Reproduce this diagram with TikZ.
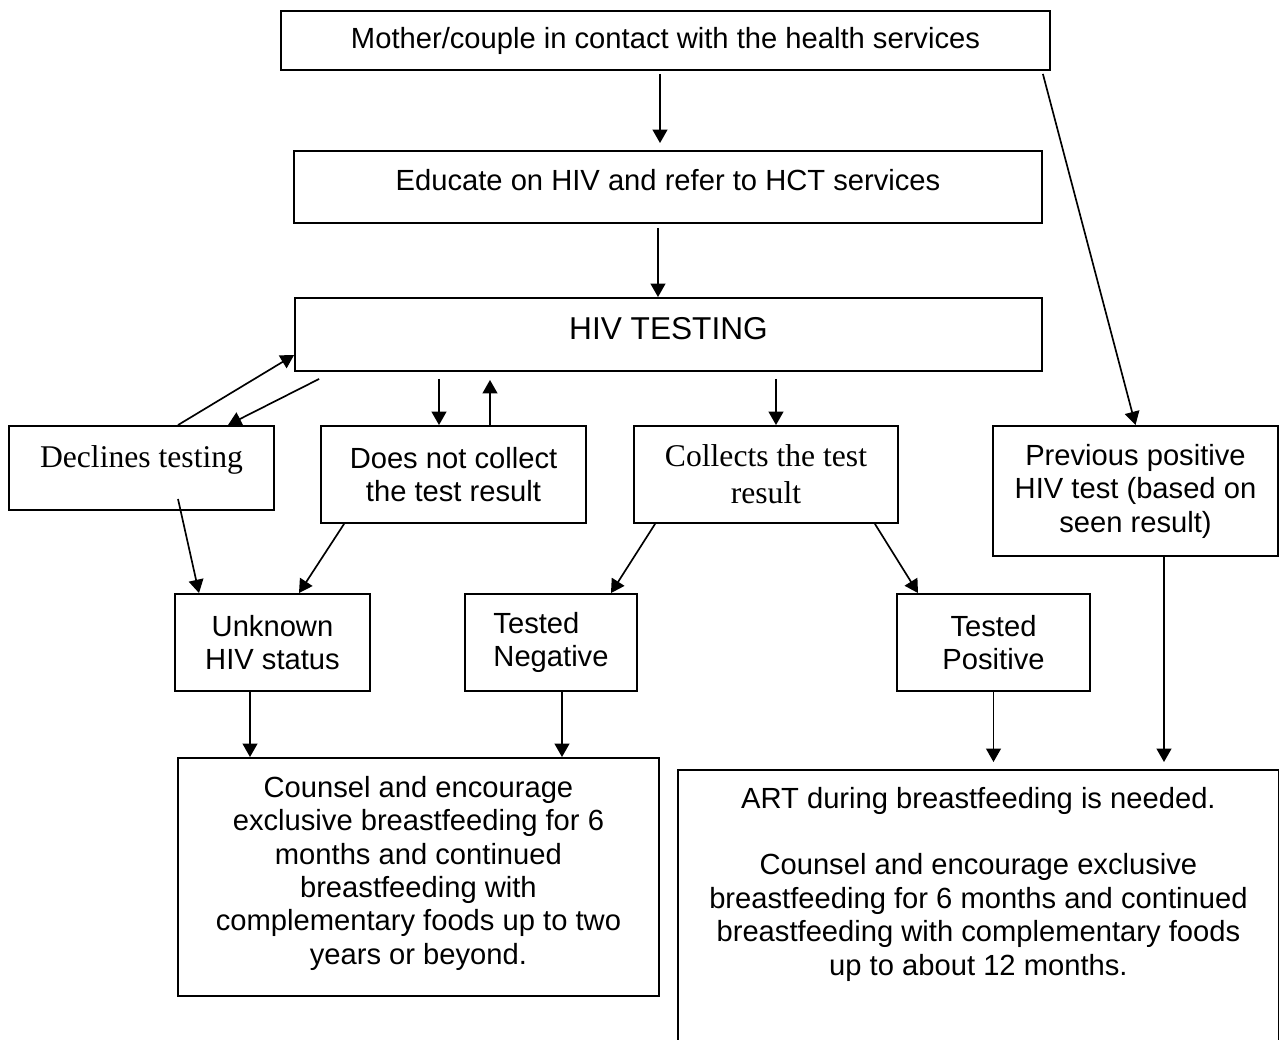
\documentclass[tikz,border=0pt]{standalone}
\usepackage{fontspec}
\setmainfont{Liberation Sans}
\newfontfamily\timesfont{Liberation Serif}
\usetikzlibrary{arrows.meta}
\begin{document}
\begin{tikzpicture}[x=0.02cm, y=-0.02cm, line join=miter,
    >={Triangle[length=7.6pt, width=8.4pt]},
    box/.style={draw, line width=1.1pt, inner sep=0pt, align=center,
      font=\fontsize{16.6}{19.05}\selectfont},
    serifbox/.style={box, font=\timesfont\fontsize{18}{21}\selectfont},
    link/.style={->, line width=0.95pt}]
  \useasboundingbox (0,0) rectangle (1279,1040);
  % --- Top of the chart ---
  \node[box, minimum width=15.38cm, minimum height=1.18cm] (contact) at (665.5,40.5)
    {Mother/couple in contact with the health services};
  \node[box, minimum width=14.96cm, minimum height=1.44cm] (educate) at (668,187)
    {\raisebox{0.28cm}{Educate on HIV and refer to HCT services}};
  \node[box, minimum width=14.94cm, minimum height=1.46cm, font=\fontsize{18}{21}\selectfont]
    (testing) at (668.5,334.5) {\raisebox{0.26cm}{HIV TESTING}};
  % --- Second row ---
  \node[serifbox, minimum width=5.30cm, minimum height=1.68cm] (declines) at (141.5,468)
    {\raisebox{0.45cm}{Declines testing}};
  \node[box, minimum width=5.30cm, minimum height=1.94cm] (nocollect) at (453.5,474.5)
    {Does not collect\\the test result};
  \node[serifbox, minimum width=5.28cm, minimum height=1.94cm] (collects) at (766,474.5)
    {Collects the test\\result};
  \node[box, minimum width=5.70cm, minimum height=2.60cm] (previous) at (1135.5,491)
    {Previous positive\\HIV test (based on\\seen result)};
  % --- Status row ---
  \node[box, minimum width=3.90cm, minimum height=1.94cm] (unknown) at (272.5,642.5)
    {Unknown\\HIV status};
  \node[box, align=left, minimum width=3.44cm, minimum height=1.94cm] (negative) at (551,642.5)
    {Tested\\Negative};
  \node[box, minimum width=3.86cm, minimum height=1.94cm] (positive) at (993.5,642.5)
    {Tested\\Positive};
  % --- Advice boxes ---
  \node[box, anchor=north west] (counsel) at (177,757)
    {\parbox[t][4.76cm][t]{9.62cm}{\centering\vspace*{0.36cm}%
      Counsel and encourage\\exclusive breastfeeding for 6\\months and continued\\
      breastfeeding with\\complementary foods up to two\\years or beyond.}};
  \node[box, anchor=north west] (art) at (677,769)
    {\parbox[t][5.82cm][t]{12.02cm}{\centering\vspace*{0.34cm}%
      ART during breastfeeding is needed.\\[19pt]
      Counsel and encourage exclusive\\breastfeeding for 6 months and continued\\
      breastfeeding with complementary foods\\up to about 12 months.}};
  % --- Arrows ---
  \draw[link, shorten <=0.06cm, shorten >=0.14cm] ([xshift=-0.11cm]contact.south)
    -- ([xshift=-0.11cm]contact.south |- educate.north);
  \draw[link, shorten <=0.08cm] ([xshift=-0.2cm]educate.south)
    -- ([xshift=-0.2cm]educate.south |- testing.north);
  \draw[link] ([xshift=-0.16cm, yshift=-0.06cm]contact.south east) -- (previous.north);
  \draw[link] ([xshift=0.73cm]declines.north) -- ([yshift=-0.41cm]testing.west);
  \draw[link] ([xshift=0.5cm, yshift=-0.14cm]testing.south west) -- ([xshift=1.73cm]declines.north);
  \draw[link, shorten <=0.14cm] ([xshift=-0.29cm]nocollect.north |- testing.south)
    -- ([xshift=-0.29cm]nocollect.north);
  \draw[link, shorten >=0.16cm] ([xshift=0.73cm]nocollect.north)
    -- ([xshift=0.73cm]nocollect.north |- testing.south);
  \draw[link, shorten <=0.14cm] ([xshift=0.2cm]collects.north |- testing.south)
    -- ([xshift=0.2cm]collects.north);
  \draw[link] ([xshift=0.73cm, yshift=0.24cm]declines.south) -- ([xshift=-1.47cm]unknown.north);
  \draw[link] ([xshift=0.48cm]nocollect.south west) -- ([xshift=0.53cm]unknown.north);
  \draw[link] ([xshift=0.44cm]collects.south west) -- ([xshift=1.2cm]negative.north);
  \draw[link] ([xshift=-0.48cm]collects.south east) -- ([xshift=-1.51cm]positive.north);
  \draw[link] ([xshift=-0.45cm]unknown.south) -- ([xshift=-0.45cm]unknown.south |- counsel.north);
  \draw[link] ([xshift=0.22cm]negative.south) -- ([xshift=0.22cm]negative.south |- counsel.north);
  \draw[link, shorten >=0.14cm] (positive.south) -- (positive.south |- art.north);
  \draw[link, shorten >=0.14cm] ([xshift=0.57cm]previous.south) -- ([xshift=0.57cm]previous.south |- art.north);
\end{tikzpicture}
\end{document}
